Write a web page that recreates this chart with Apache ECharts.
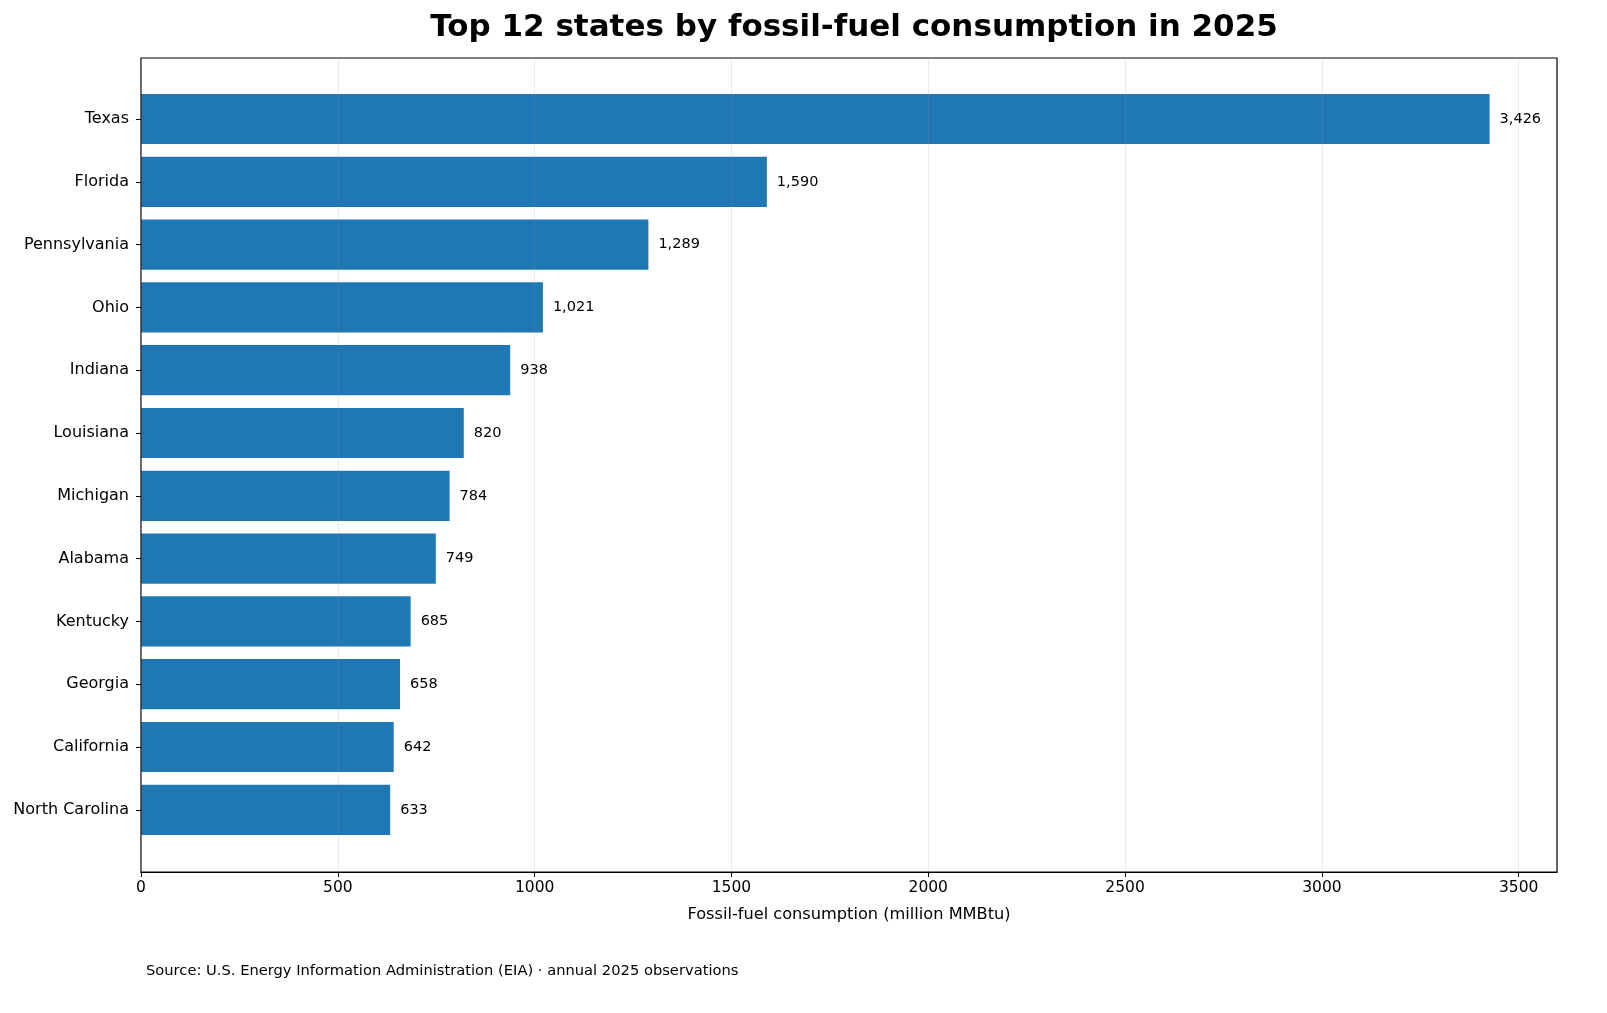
<!DOCTYPE html>
<html><head><meta charset="utf-8">
<script src="https://cdn.jsdelivr.net/npm/echarts@6/dist/echarts.min.js"></script>
<style>html,body{margin:0;padding:0;background:#fff}#c{width:1607px;height:1013px}</style>
</head><body><div id="c"></div>
<script>
const states = ["Texas","Florida","Pennsylvania","Ohio","Indiana","Louisiana","Michigan","Alabama","Kentucky","Georgia","California","North Carolina"];
const consumption = [3426,1590,1289,1021,938,820,784,749,685,658,642,633];
const xTicks = [0,500,1000,1500,2000,2500,3000,3500];
const titleText = "Top 12 states by fossil-fuel consumption in 2025";
const xLabel = "Fossil-fuel consumption (million MMBtu)";
const sourceText = "Source: U.S. Energy Information Administration (EIA) · annual 2025 observations";

const FONT = "DejaVu Sans";
const xMax = Math.max(...consumption) * 1.05;
const chart = echarts.init(document.getElementById('c'), null, {renderer:'canvas'});
chart.setOption({
  animation:false,
  backgroundColor:'#fff',
  textStyle:{fontFamily:FONT},
  title:[
    {text:titleText,left:849,top:7,textAlign:'center',textStyle:{fontFamily:FONT,fontSize:31,fontWeight:'bold',color:'#000'}},
    {text:sourceText,left:141,top:959,textStyle:{fontFamily:FONT,fontSize:14.7,fontWeight:'normal',color:'#000'}}
  ],
  grid:[
    {left:141,right:50,top:58,bottom:141,show:true,borderColor:'#000',borderWidth:1.2,backgroundColor:'transparent',z:4},
    {left:141,right:50,top:87.6,bottom:171.8}
  ],
  xAxis:[
    {gridIndex:0,type:'value',min:0,max:xMax,interval:500,z:5,
     axisLine:{show:true,onZero:false,lineStyle:{color:'#000',width:1.2}},
     axisTick:{show:true,length:5,customValues:xTicks,lineStyle:{color:'#000'}},
     axisLabel:{show:true,margin:8,fontSize:15.5,color:'#000',fontFamily:FONT,customValues:xTicks,
       formatter:v=>String(v)},
     splitLine:{show:true,lineStyle:{color:'rgba(150,150,150,0.2)',width:1}},
     name:xLabel,nameLocation:'middle',nameGap:35,nameTextStyle:{fontSize:16.2,color:'#000',fontFamily:FONT}},
    {gridIndex:1,type:'value',min:0,max:xMax,show:false,splitLine:{show:false}}
  ],
  yAxis:[
    {gridIndex:0,type:'value',min:0,max:1,show:false,splitLine:{show:false}},
    {gridIndex:1,type:'category',data:states,inverse:true,
     axisLine:{show:false},
     axisTick:{show:true,alignWithLabel:true,length:5,inside:false,lineStyle:{color:'#000'}},
     axisLabel:{margin:12,fontSize:16,color:'#000',fontFamily:FONT},
     splitLine:{show:false}}
  ],
  series:[{
    type:'bar',xAxisIndex:1,yAxisIndex:1,data:consumption,
    barCategoryGap:'20%',
    itemStyle:{color:'#1f77b4'},
    label:{show:true,position:'right',distance:10,fontSize:14.5,color:'#000',fontFamily:FONT,
      formatter:p=>p.value.toLocaleString('en-US')}
  }]
});
</script></body></html>
